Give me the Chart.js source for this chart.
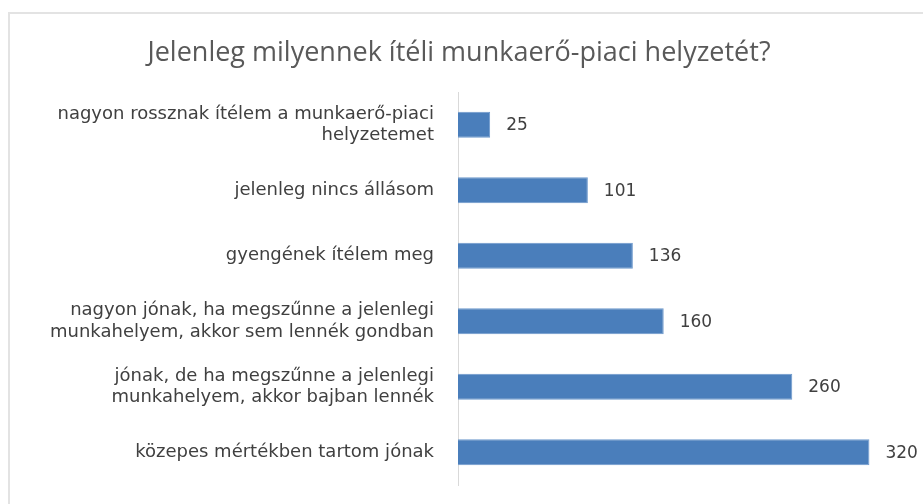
<!DOCTYPE html>
<html>
<head>
<meta charset="utf-8">
<script src="https://cdn.jsdelivr.net/npm/chart.js@4.4.0/dist/chart.umd.min.js"></script>
<style>
	html, body {
		margin: 0;
		padding: 0;
		background: #ffffff;
		overflow: hidden;
	}
	#frame {
		position: absolute;
		left: 8px;
		top: 12px;
		width: 930px;
		height: 510px;
		border: 2px solid #e3e3e3;
		box-sizing: border-box;
	}
	#chart {
		position: absolute;
		left: 0;
		top: 0;
	}
</style>
</head>
<body>
<div id="frame"></div>
<canvas id="chart" width="923" height="504"></canvas>
<script>
var titleText = "Jelenleg milyennek ítéli munkaerő-piaci helyzetét?";

var categories = [
	["nagyon rossznak ítélem a munkaerő-piaci", "helyzetemet"],
	"jelenleg nincs állásom",
	"gyengének ítélem meg",
	["nagyon jónak, ha megszűnne a jelenlegi", "munkahelyem, akkor sem lennék gondban"],
	["jónak, de ha megszűnne a jelenlegi", "munkahelyem, akkor bajban lennék"],
	"közepes mértékben tartom jónak",
];

var values = [25, 101, 136, 160, 260, 320];

// value labels to the right of each bar
var valueLabels = {
	id: "valueLabels",
	afterDatasetsDraw: function (chart) {
		var ctx = chart.ctx;
		var meta = chart.getDatasetMeta(0);
		ctx.save();
		ctx.font = "17px 'DejaVu Sans'";
		ctx.fillStyle = "#404040";
		ctx.textAlign = "left";
		ctx.textBaseline = "middle";
		meta.data.forEach(function (bar, i) {
			ctx.fillText(values[i], bar.x + 16, bar.y + 1);
		});
		ctx.restore();
	},
};

var ctx = document.getElementById("chart");

new Chart(ctx, {
	type: "bar",
	data: {
		labels: categories,
		datasets: [
			{
				label: "Válaszok",
				data: values,
				backgroundColor: "#4a7ebb",
				borderColor: "#6d98cc",
				borderWidth: 1,
				barPercentage: 0.8,
				categoryPercentage: 0.5,
			},
		],
	},
	options: {
		indexAxis: "y",
		responsive: false,
		animation: false,
		layout: {
			padding: { top: 37, right: 15, bottom: 19, left: 10 },
		},
		plugins: {
			legend: {
				display: false,
			},
			tooltip: {
				enabled: false,
			},
			title: {
				display: true,
				text: titleText,
				color: "#595959",
				font: { family: "'Open Sans'", size: 27, weight: "normal", lineHeight: 1.2 },
				padding: { top: 0, bottom: 22.6 },
			},
		},
		scales: {
			x: {
				display: false,
				min: 0,
				max: 350,
			},
			y: {
				afterFit: function (scale) {
					scale.width = 448;
					// keep the label padding from eating into the plot height
					scale.paddingTop = 0;
					scale.paddingBottom = 0;
				},
				grid: {
					display: false,
					drawTicks: false,
				},
				border: {
					display: true,
					color: "#d9d9d9",
					width: 1,
				},
				ticks: {
					color: "#404040",
					padding: 24,
					font: { family: "'DejaVu Sans'", size: 18, lineHeight: 1.2 },
				},
			},
		},
	},
	plugins: [valueLabels],
});
</script>
</body>
</html>
